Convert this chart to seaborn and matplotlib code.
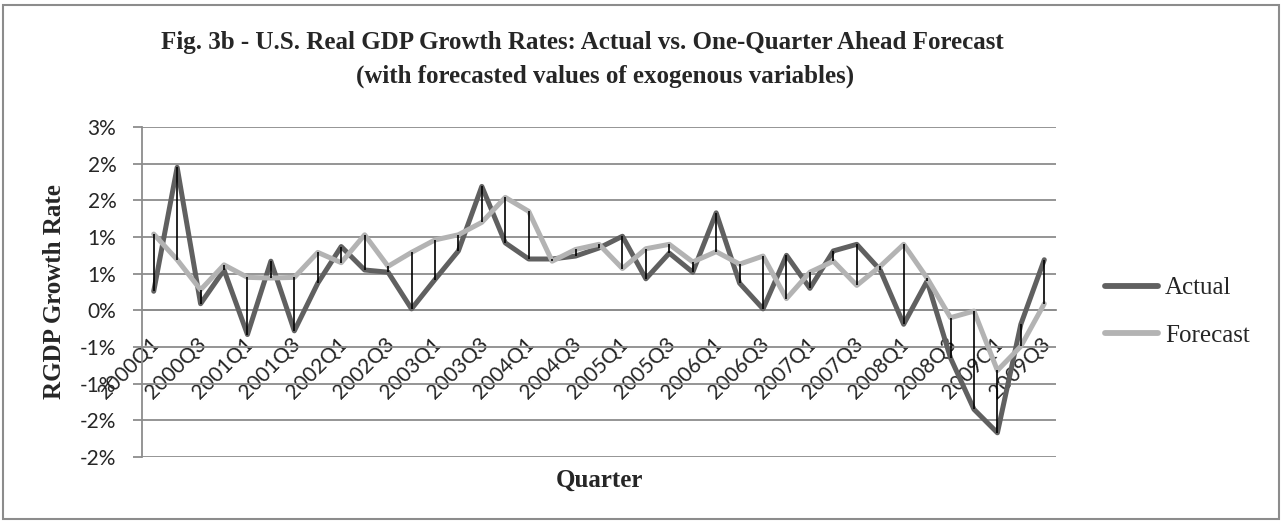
import matplotlib
matplotlib.use("Agg")
import matplotlib.pyplot as plt
import seaborn as sns
import numpy as np
import pandas as pd
from matplotlib.transforms import ScaledTranslation
from matplotlib.lines import Line2D
from matplotlib.patches import Rectangle

# ---------------- data ----------------
quarters = ["2000Q1", "2000Q2", "2000Q3", "2000Q4", "2001Q1", "2001Q2", "2001Q3", "2001Q4",
            "2002Q1", "2002Q2", "2002Q3", "2002Q4", "2003Q1", "2003Q2", "2003Q3", "2003Q4",
            "2004Q1", "2004Q2", "2004Q3", "2004Q4", "2005Q1", "2005Q2", "2005Q3", "2005Q4",
            "2006Q1", "2006Q2", "2006Q3", "2006Q4", "2007Q1", "2007Q2", "2007Q3", "2007Q4",
            "2008Q1", "2008Q2", "2008Q3", "2008Q4", "2009Q1", "2009Q2", "2009Q3"]
actual = [0.26, 1.95, 0.09, 0.55, -0.33, 0.67, -0.28, 0.37, 0.87, 0.55,
          0.52, 0.02, 0.42, 0.81, 1.69, 0.92, 0.70, 0.70, 0.74, 0.85,
          1.01, 0.43, 0.78, 0.52, 1.33, 0.37, 0.02, 0.75, 0.30, 0.81,
          0.90, 0.55, -0.19, 0.40, -0.65, -1.35, -1.67, -0.19, 0.69]
forecast = [1.04, 0.69, 0.28, 0.62, 0.45, 0.44, 0.45, 0.79, 0.65, 1.03,
            0.60, 0.79, 0.96, 1.03, 1.20, 1.54, 1.35, 0.67, 0.83, 0.90,
            0.57, 0.84, 0.90, 0.66, 0.80, 0.63, 0.74, 0.16, 0.52, 0.67,
            0.34, 0.60, 0.90, 0.44, -0.10, -0.01, -0.82, -0.49, 0.09]
y_ticks = [-2.0, -1.5, -1.0, -0.5, 0.0, 0.5, 1.0, 1.5, 2.0, 2.5]
y_tick_labels = ["-2%", "-2%", "-1%", "-1%", "0%", "1%", "1%", "2%", "2%", "3%"]
series_names = ["Actual", "Forecast"]
title_line1 = "Fig. 3b - U.S. Real GDP Growth Rates: Actual vs. One-Quarter Ahead Forecast"
title_line2 = "(with forecasted values of exogenous variables)"

df = pd.DataFrame({"pos": np.arange(len(quarters)), "quarter": quarters,
                   "Actual": actual, "Forecast": forecast})

# ---------------- style ----------------
sns.set_theme(style="white")
plt.rcParams["font.family"] = ["Liberation Serif", "DejaVu Serif"]

W, H = 1281, 522
fig = plt.figure(figsize=(W / 100, H / 100), dpi=100)
fig.patch.set_facecolor("white")

grid_c = "#8c8c8c"
c_act = "#606060"
c_fc = "#b3b3b3"

ax = fig.add_axes([142 / W, 1 - 457 / H, (1056 - 142) / W, (457 - 127) / H])
ax.set_facecolor("white")

# spines first (moving a spine resets tick objects)
for s in ["top", "right"]:
    ax.spines[s].set_visible(False)
ax.spines["left"].set_color(grid_c)
ax.spines["left"].set_linewidth(1.3)
ax.spines["bottom"].set_position(("data", 0))
ax.spines["bottom"].set_color(grid_c)
ax.spines["bottom"].set_linewidth(1.3)

sns.lineplot(data=df, x="pos", y="Actual", ax=ax, color=c_act, linewidth=3.6,
             solid_joinstyle="round", solid_capstyle="round", zorder=3, legend=False)
sns.lineplot(data=df, x="pos", y="Forecast", ax=ax, color=c_fc, linewidth=3.6,
             solid_joinstyle="round", solid_capstyle="round", zorder=4, legend=False)
ax.vlines(df["pos"], np.minimum(df["Actual"], df["Forecast"]),
          np.maximum(df["Actual"], df["Forecast"]), color="black", linewidth=1.2, zorder=5)

ax.set_xlim(-0.5, len(quarters) - 0.5)
ax.set_ylim(y_ticks[0], y_ticks[-1])
ax.yaxis.grid(True, color=grid_c, linewidth=1.3, zorder=0)
ax.xaxis.grid(False)
ax.tick_params(axis="y", which="major", length=6.5, width=1.3, color=grid_c,
               direction="out", pad=12, left=True)
ax.tick_params(axis="x", length=0, pad=17, bottom=True)

ax.set_yticks(y_ticks)
ax.set_yticklabels(y_tick_labels, fontfamily="Lato", fontsize=15)

xt = list(df["pos"][::2])
xl = list(df["quarter"][::2])
ax.set_xticks(xt)
ax.set_xticklabels(xl, fontfamily="Lato", fontsize=15, rotation=45,
                   ha="right", va="top", rotation_mode="anchor")
for lab in ax.get_xticklabels():
    lab.set_transform(lab.get_transform() + ScaledTranslation(-4 / 100, 0, fig.dpi_scale_trans))

ax.set_xlabel("Quarter", fontsize=18, fontweight="bold", va="center")
ax.xaxis.set_label_coords(0.5, (457 - 480) / (457 - 127))
ax.set_ylabel("RGDP Growth Rate", fontsize=18, fontweight="bold", va="center")
ax.yaxis.set_label_coords((55 - 142) / (1056 - 142), (457 - 292) / (457 - 127))

fig.text(582 / W, 1 - 49 / H, title_line1, ha="center", va="baseline",
         fontsize=18, fontweight="bold")
fig.text(605 / W, 1 - 83 / H, title_line2, ha="center", va="baseline",
         fontsize=18, fontweight="bold")

handles = [Line2D([0], [0], color=c_act, linewidth=4.2, solid_capstyle="round"),
           Line2D([0], [0], color=c_fc, linewidth=4.2, solid_capstyle="round")]
fig.legend(handles, series_names, loc="center left",
           bbox_to_anchor=(1105 / W, 1 - 312 / H), frameon=False, fontsize=18,
           handlelength=2.1, handletextpad=0.3, labelspacing=1.0,
           borderpad=0, borderaxespad=0)

fig.patches.append(Rectangle((3 / W, 3 / H), (1279 - 3) / W, (517 - 3) / H,
                             transform=fig.transFigure, fill=False,
                             edgecolor=grid_c, linewidth=1.5))

fig.savefig("out.png", dpi=100, facecolor="white")
